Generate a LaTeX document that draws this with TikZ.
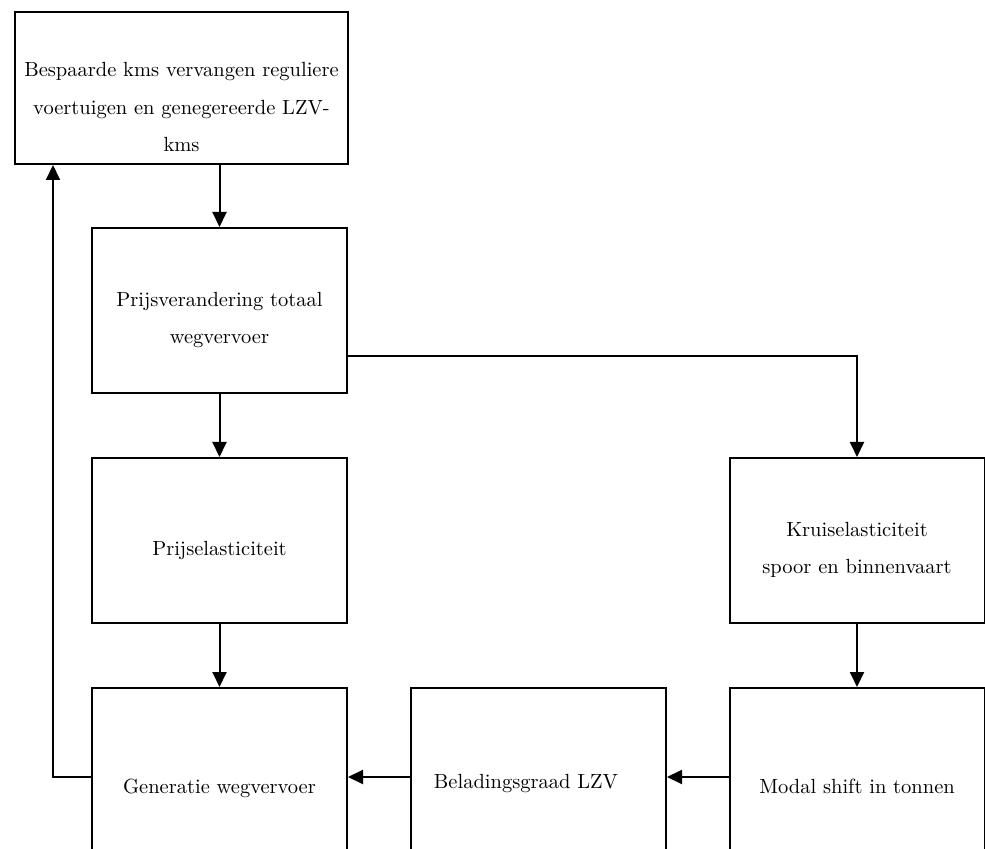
\documentclass[tikz,border=0pt]{standalone}
\usetikzlibrary{arrows.meta}
\begin{document}
\begin{tikzpicture}[x=0.5pt,y=-0.5pt,
  box/.style={draw, line width=1pt, inner sep=0pt, minimum width=127.5pt, minimum height=82.5pt},
  lbl/.style={anchor=base, inner sep=0pt, font=\fontsize{10.25}{12}\selectfont},
  flow/.style={line width=1pt, -{Triangle[length=7.5pt,width=7pt]}}]
\useasboundingbox (0,0) rectangle (985,849);
\clip (0,0) rectangle (985,849);

% boxes
\node[box, minimum width=166.5pt, minimum height=76pt] (b1) at (181.5,88) {};
\node[box] (b2) at (219.5,310.5) {};
\node[box] (b3) at (219.5,540.5) {};
\node[box, minimum height=89pt] (b4) at (219.5,777) {};
\node[box, minimum height=89pt] (b5) at (538.5,777) {};
\node[box, minimum height=89pt] (b6) at (857,777) {};
\node[box] (b7) at (857,540.5) {};

% labels
\node[lbl] (t1a) at (181.5,77) {Bespaarde kms vervangen reguliere};
\node[lbl] (t1b) at (181.5,114.5) {voertuigen en genegereerde LZV-};
\node[lbl] (t1c) at (181.5,152) {kms};
\node[lbl] (t2a) at (219.5,307) {Prijsverandering totaal};
\node[lbl] (t2b) at (219.5,344) {wegvervoer};
\node[lbl] (t3) at (219.5,556) {Prijselasticiteit};
\node[lbl] (t7a) at (857,537) {Kruiselasticiteit};
\node[lbl] (t7b) at (857,574) {spoor en binnenvaart};
\node[lbl] (t4) at (219.5,793) {Generatie wegvervoer};
\node[lbl] (t5) at (526,788) {Beladingsgraad LZV};
\node[lbl] (t6) at (857,793) {Modal shift in tonnen};

% connectors
\coordinate (loop) at (53,777);
\draw[flow] (b1.south -| b2.north) -- (b2.north);
\draw[flow] (b2) -- (b3);
\draw[flow] (b3) -- (b4);
\draw[flow] ([yshift=-22.75pt]b2.east) -| (b7.north);
\draw[flow] (b7) -- (b6);
\draw[flow] (b6) -- (b5);
\draw[flow] (b5) -- (b4);
\draw[flow] (b4.west) -- (loop) -- (loop |- b1.south);
\end{tikzpicture}
\end{document}
